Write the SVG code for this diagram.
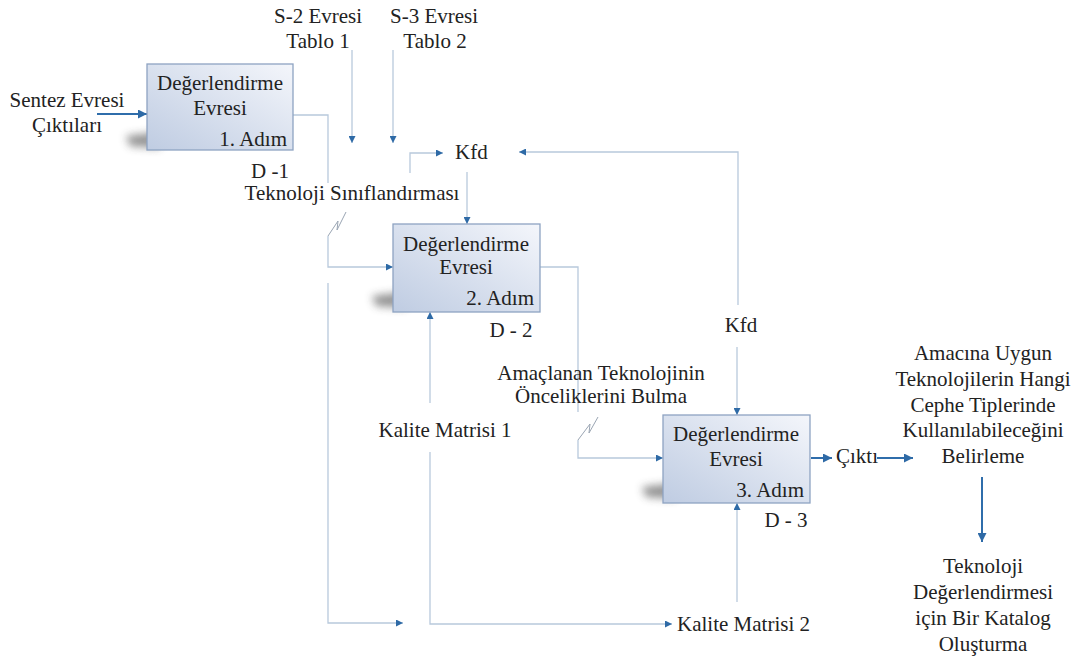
<svg xmlns="http://www.w3.org/2000/svg" width="1083" height="662" viewBox="0 0 1083 662">
<defs>
<style>
.t{font-family:"Liberation Serif","Times New Roman",serif;font-size:21px;fill:#222}
.m{text-anchor:middle}
.e{text-anchor:end}
.box{fill:url(#bg);stroke:#8ea3c2;stroke-width:1.3}
.c{fill:none;stroke:#b8c9dc;stroke-width:1.3}
.ca{fill:none;stroke:#b8c9dc;stroke-width:1.3;marker-end:url(#ah)}
.th{fill:none;stroke:#2f6dab;stroke-width:2;marker-end:url(#ahb)}
.sq{fill:none;stroke:#9aa5b3;stroke-width:1}
.sh{fill:#3a3a3a;opacity:.55;filter:url(#blur)}
</style>
<linearGradient id="bg" x1="1" y1="0" x2="0" y2="1">
<stop offset="0" stop-color="#f4f6fb"/>
<stop offset="1" stop-color="#bfcce2"/>
</linearGradient>
<filter id="blur" x="-50%" y="-80%" width="200%" height="260%"><feGaussianBlur stdDeviation="4"/></filter>
<marker id="ah" viewBox="0 0 8 8" refX="8" refY="4" markerWidth="7" markerHeight="7" markerUnits="userSpaceOnUse" orient="auto"><path d="M0,0 L8,4 L0,8 z" fill="#2e6aa6"/></marker>
<marker id="ahb" viewBox="0 0 8 8" refX="8" refY="4" markerWidth="9" markerHeight="9" markerUnits="userSpaceOnUse" orient="auto"><path d="M0,0 L8,4 L0,8 z" fill="#2e6aa6"/></marker>
</defs>
<rect width="1083" height="662" fill="#fff"/>

<g id="connectors">
<path class="th" d="M97,114 H147"/>
<path class="c" d="M293,115 H328 V183"/>
<path class="sq" d="M328,236 L338,221 L337,230 L346,212"/>
<path class="ca" d="M328,236 V267 H393"/>
<path class="ca" d="M328,283 V623 H403"/>
<path class="ca" d="M430,403 V312"/>
<path class="ca" d="M430,452 V624 H672"/>
<path class="ca" d="M737,602 V503"/>
<path class="c" d="M540,267 H578 V412"/>
<path class="sq" d="M578,440 L590,424 L589,433 L598,417"/>
<path class="ca" d="M578,440 V458 H663"/>
<path class="ca" d="M352,50 V143"/>
<path class="ca" d="M393,50 V143"/>
<path class="ca" d="M410,173 V153 H443"/>
<path class="ca" d="M738,305 V152 H519"/>
<path class="ca" d="M467,172 V224"/>
<path class="ca" d="M737,347 V415"/>
<path class="th" d="M811,458 H832"/>
<path class="th" d="M877,458 H913"/>
<path class="th" d="M982,477 V542"/>
</g>

<g id="step1">
<path class="sh" d="M126,136 L160,132 L160,148 L130,146 z"/>
<rect class="box" x="147" y="64" width="146" height="86"/>
<text class="t m" x="220" y="90">Değerlendirme</text>
<text class="t m" x="220" y="115">Evresi</text>
<text class="t e" x="287" y="146">1. Adım</text>
</g>
<g id="step2">
<path class="sh" d="M372,296 L406,292 L406,308 L376,306 z"/>
<rect class="box" x="393" y="224" width="147" height="88"/>
<text class="t m" x="466" y="251">Değerlendirme</text>
<text class="t m" x="466" y="274">Evresi</text>
<text class="t e" x="534" y="305">2. Adım</text>
</g>
<g id="step3">
<path class="sh" d="M642,487 L676,483 L676,499 L646,497 z"/>
<rect class="box" x="663" y="415" width="147" height="88"/>
<text class="t m" x="736" y="441">Değerlendirme</text>
<text class="t m" x="736" y="466">Evresi</text>
<text class="t e" x="804" y="497">3. Adım</text>
</g>

<g id="labels">
<text class="t m" x="67" y="107">Sentez Evresi</text>
<text class="t m" x="67" y="132">Çıktıları</text>
<text class="t m" x="318" y="23">S-2 Evresi</text>
<text class="t m" x="318" y="48">Tablo 1</text>
<text class="t m" x="434" y="23">S-3 Evresi</text>
<text class="t m" x="435" y="48">Tablo 2</text>
<text class="t m" x="270" y="178">D -1</text>
<text class="t m" x="352" y="200">Teknoloji Sınıflandırması</text>
<text class="t" x="455" y="159">Kfd</text>
<text class="t m" x="741" y="332">Kfd</text>
<text class="t m" x="511" y="337">D - 2</text>
<text class="t m" x="601" y="380">Amaçlanan Teknolojinin</text>
<text class="t m" x="601" y="403">Önceliklerini Bulma</text>
<text class="t m" x="445" y="437">Kalite Matrisi 1</text>
<text class="t m" x="786" y="527">D - 3</text>
<text class="t" x="677" y="631">Kalite Matrisi 2</text>
<text class="t" x="836" y="463">Çıktı</text>
<text class="t m" x="983" y="360">Amacına Uygun</text>
<text class="t m" x="983" y="386">Teknolojilerin Hangi</text>
<text class="t m" x="983" y="412">Cephe Tiplerinde</text>
<text class="t m" x="983" y="437">Kullanılabileceğini</text>
<text class="t m" x="983" y="463">Belirleme</text>
<text class="t m" x="983" y="573">Teknoloji</text>
<text class="t m" x="983" y="599">Değerlendirmesi</text>
<text class="t m" x="983" y="625">için Bir Katalog</text>
<text class="t m" x="983" y="651">Oluşturma</text>
</g>
</svg>
